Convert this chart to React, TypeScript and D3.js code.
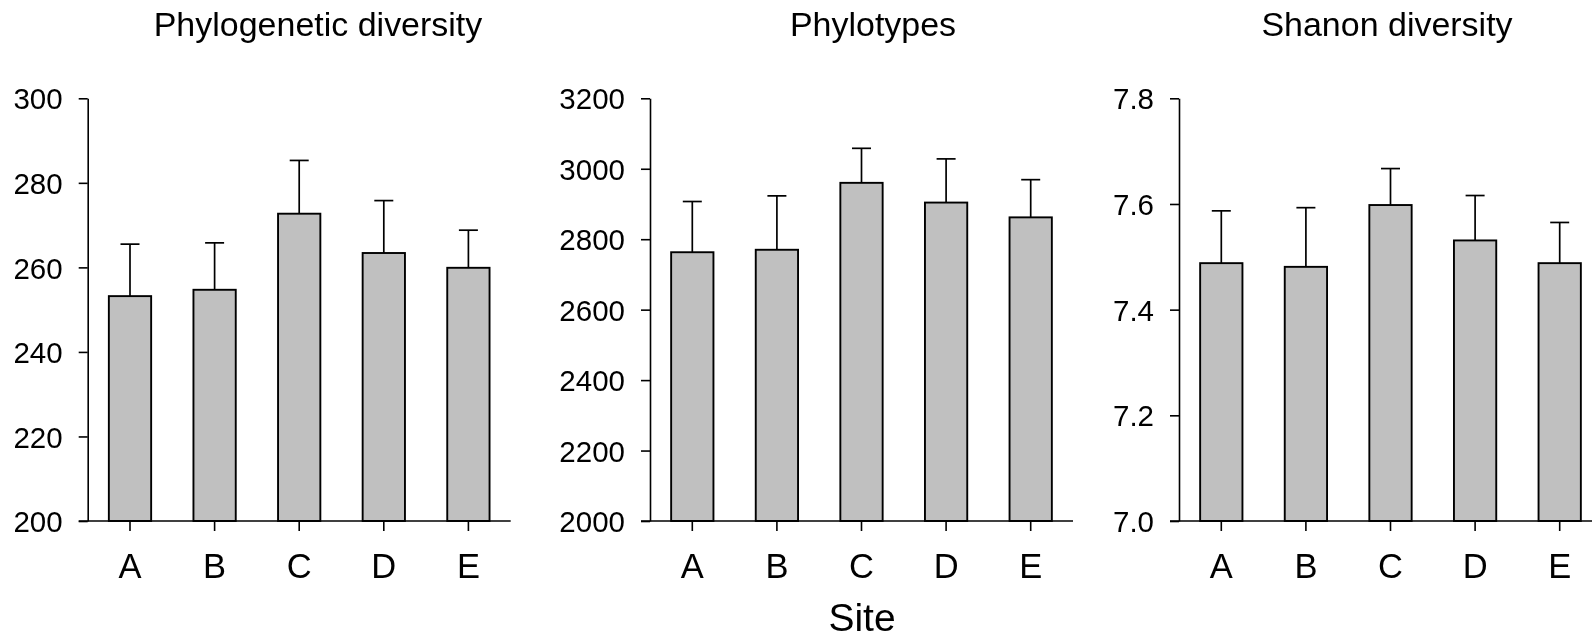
import React, { useEffect, useRef } from 'react';
import * as d3 from 'd3';

// sites along the x axis
const sites = ['A', 'B', 'C', 'D', 'E'];

// panel titles
const titles = ['Phylogenetic diversity', 'Phylotypes', 'Shanon diversity'];

// means and standard errors
const pdMeans = [253.2, 254.7, 272.7, 263.4, 259.9];
const pdErrors = [12.3, 11.1, 12.6, 12.4, 8.9];

const phyloMeans = [2763, 2770, 2960, 2904, 2862];
const phyloErrors = [144, 153, 98, 124, 107];

const shannonMeans = [7.488, 7.481, 7.598, 7.531, 7.488];
const shannonErrors = [0.099, 0.112, 0.069, 0.085, 0.077];

// y axis ranges and tick labels
const pdTicks = [200, 220, 240, 260, 280, 300];
const phyloTicks = [2000, 2200, 2400, 2600, 2800, 3000, 3200];
const shannonTicks = ['7.0', '7.2', '7.4', '7.6', '7.8'];

const xLabel = 'Site';

const App = () => {
  const svgRef = useRef<SVGSVGElement>(null);

  useEffect(() => {
    renderChart();
  }, []);

  const renderChart = () => {
    const root = d3.select(svgRef.current);
    root.selectAll('*').remove();

    const width = 1592;
    const height = 639;
    const plotTop = 98.3;
    const plotBottom = 521;
    const plotWidth = 423;
    const font = '"Liberation Sans", Arial, Helvetica, sans-serif';

    root.attr('width', width).attr('height', height).style('font-family', font);

    const panels = [
      { title: titles[0], means: pdMeans, errors: pdErrors, ticks: pdTicks.map(Number), fmt: d3.format('d'), left: 87.7, titleX: 318 },
      { title: titles[1], means: phyloMeans, errors: phyloErrors, ticks: phyloTicks.map(Number), fmt: d3.format('d'), left: 650, titleX: 873 },
      { title: titles[2], means: shannonMeans, errors: shannonErrors, ticks: shannonTicks.map(Number), fmt: d3.format('.1f'), left: 1179, titleX: 1387 },
    ];

    const x = d3.scaleBand<string>()
      .domain(sites)
      .range([0, plotWidth])
      .paddingInner(0.5)
      .paddingOuter(0.25);

    panels.forEach((p) => {
      const g = root.append('g').attr('transform', `translate(${p.left},0)`);

      const y = d3.scaleLinear()
        .domain([p.ticks[0], p.ticks[p.ticks.length - 1]])
        .range([plotBottom, plotTop]);

      // title (lettering in the original is a touch wider than Arial)
      root.append('text')
        .attr('transform', `translate(${p.titleX},36) scale(1.03,1)`)
        .attr('text-anchor', 'middle')
        .attr('font-size', 33)
        .attr('fill', '#000')
        .text(p.title);

      const data = sites.map((s, i) => ({ site: s, mean: p.means[i], se: p.errors[i] }));

      // error bars (upper only)
      const capHalf = 9.5;
      data.forEach((d) => {
        const cx = (x(d.site) as number) + x.bandwidth() / 2;
        g.append('line')
          .attr('x1', cx).attr('x2', cx)
          .attr('y1', y(d.mean)).attr('y2', y(d.mean + d.se))
          .attr('stroke', '#000').attr('stroke-width', 1.7);
        g.append('line')
          .attr('x1', cx - capHalf).attr('x2', cx + capHalf)
          .attr('y1', y(d.mean + d.se)).attr('y2', y(d.mean + d.se))
          .attr('stroke', '#000').attr('stroke-width', 1.7);
      });

      // bars
      g.selectAll('.bar')
        .data(data)
        .enter()
        .append('rect')
        .attr('class', 'bar')
        .attr('x', (d) => x(d.site) as number)
        .attr('y', (d) => y(d.mean))
        .attr('width', x.bandwidth())
        .attr('height', (d) => plotBottom - y(d.mean))
        .attr('fill', '#c0c0c0')
        .attr('stroke', '#000')
        .attr('stroke-width', 1.9);

      // y axis
      const yAxis = g.append('g')
        .call(d3.axisLeft(y).tickValues(p.ticks).tickFormat(p.fmt as any).tickSize(9).tickPadding(16).tickSizeOuter(0));
      yAxis.select('.domain').attr('stroke', '#000').attr('stroke-width', 1.6);
      yAxis.selectAll('.tick line').attr('stroke', '#000').attr('stroke-width', 1.6);
      yAxis.selectAll('.tick text')
        .attr('font-size', 29.5)
        .attr('font-family', font)
        .attr('fill', '#000')
        .attr('dy', '0.36em');

      // x axis
      const xAxis = g.append('g')
        .attr('transform', `translate(0,${plotBottom})`)
        .call(d3.axisBottom(x).tickSize(10).tickSizeOuter(0));
      xAxis.select('.domain').remove();
      xAxis.append('line')
        .attr('x1', -9).attr('x2', plotWidth)
        .attr('stroke', '#000').attr('stroke-width', 1.6);
      xAxis.selectAll('.tick line').attr('stroke', '#000').attr('stroke-width', 1.6);
      xAxis.selectAll('.tick text')
        .attr('font-size', 34.5)
        .attr('font-family', font)
        .attr('fill', '#000')
        .attr('y', 57.3)
        .attr('dy', 0);
    });

    root.append('text')
      .attr('x', 862)
      .attr('y', 630.7)
      .attr('text-anchor', 'middle')
      .attr('font-size', 39)
      .attr('fill', '#000')
      .text(xLabel);
  };

  return (
    <div style={{ position: 'fixed', left: 0, top: 0 }}>
      <svg ref={svgRef}></svg>
    </div>
  );
};

export default App;
